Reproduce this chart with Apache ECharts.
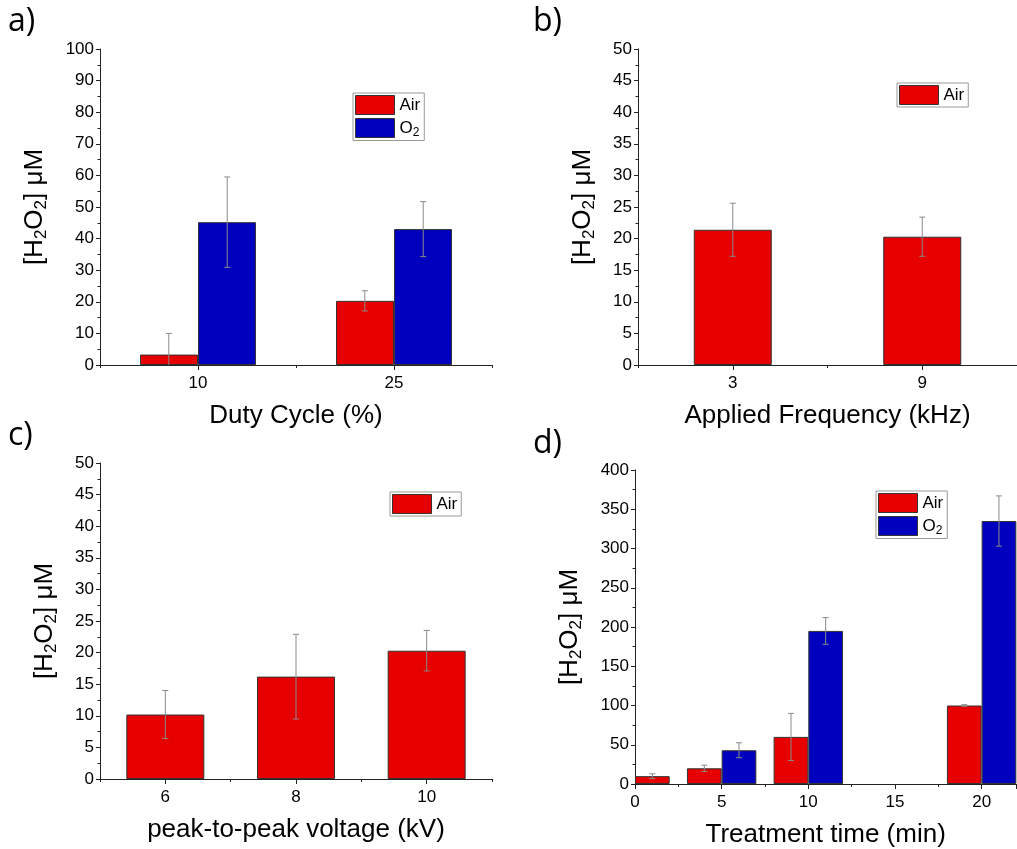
<!DOCTYPE html>
<html>
<head>
<meta charset="utf-8">
<script src="https://cdn.jsdelivr.net/npm/echarts@6/dist/echarts.min.js"></script>
<style>
  html, body { margin: 0; padding: 0; background: #fff; }
  #chart { width: 1017px; height: 849px; }
</style>
</head>
<body>
<div id="chart"></div>
<script>
// a) duty cycle
const dutyCats = ['10', '25'];
const dutyAir = [3.3, 20.3];
const dutyAirErr = [6.7, 3.2];
const dutyO2 = [45.2, 43.0];
const dutyO2Err = [14.3, 8.7];

// b) applied frequency
const freqCats = ['3', '9'];
const freqAir = [21.4, 20.3];
const freqAirErr = [4.2, 3.1];

// c) peak-to-peak voltage
const voltCats = ['6', '8', '10'];
const voltAir = [10.2, 16.2, 20.3];
const voltAirErr = [3.8, 6.7, 3.2];

// d) treatment time
const timeAirX = [2, 5, 10, 20];
const timeAir = [10, 20, 60, 100];
const timeAirErr = [3, 4, 30, 1];
const timeO2X = [5, 10, 20];
const timeO2 = [43, 195, 335];
const timeO2Err = [9.5, 17, 32];

const RED = '#E60000';
const BLUE = '#0000BE';
const FONT = 'Liberation Sans, Arial, sans-serif';

const yName = '[H{s|2}O{s|2}] μM';
const nameStyle = {
    fontSize: 26, color: '#000', fontFamily: FONT,
    rich: { s: { fontSize: 17, fontFamily: FONT, color: '#000', padding: [14, 0, 0, 0] } }
};
const labelStyle = { fontSize: 17, color: '#000', fontFamily: FONT };
const lineStyle = { color: '#222', width: 1 };

function yAxis(grid, max, interval, gap) {
    return {
        type: 'value', gridIndex: grid, min: 0, max: max, interval: interval,
        name: yName, nameLocation: 'middle', nameGap: gap, nameTextStyle: nameStyle,
        axisLine: { show: true, lineStyle: lineStyle },
        axisTick: { show: true, length: 4, lineStyle: lineStyle },
        minorTick: { show: true, splitNumber: 2, length: 2.5, lineStyle: lineStyle },
        axisLabel: Object.assign({ margin: 6 }, labelStyle),
        splitLine: { show: false }
    };
}

function catAxis(grid, cats, name) {
    return {
        type: 'category', gridIndex: grid, data: cats, position: 'bottom',
        name: name, nameLocation: 'middle', nameGap: 38, nameTextStyle: nameStyle,
        axisLine: { show: true, lineStyle: lineStyle },
        axisTick: { show: true, alignWithLabel: true, length: 5, lineStyle: lineStyle },
        axisLabel: Object.assign({ margin: 10 }, labelStyle)
    };
}

// boundary (minor) ticks between categories
function minorCatAxis(grid, cats) {
    return {
        type: 'category', gridIndex: grid, data: cats, position: 'bottom', offset: 0,
        axisLine: { show: false },
        axisTick: { show: true, length: 3, lineStyle: lineStyle },
        axisLabel: { show: false }
    };
}

function barSeries(name, xi, yi, data, color, width) {
    return {
        type: 'bar', name: name, xAxisIndex: xi, yAxisIndex: yi, data: data,
        barWidth: width, barGap: '0%',
        itemStyle: { color: color, borderColor: '#333', borderWidth: 1 }
    };
}

// pts: [x, value, err]; shift in axis units (category band or value unit)
function errSeries(xi, yi, pts, shift) {
    return {
        type: 'custom', xAxisIndex: xi, yAxisIndex: yi, data: pts, clip: true, z: 5,
        renderItem: function (params, api) {
            const x = api.value(0), v = api.value(1), e = api.value(2);
            const cx = api.coord([x, v])[0] + shift * api.size([1, 0])[0];
            const top = api.coord([x, v + e])[1];
            const bot = api.coord([x, v - e])[1];
            const st = { stroke: '#8a8a8a', lineWidth: 1 };
            return {
                type: 'group',
                children: [
                    { type: 'line', shape: { x1: cx, y1: top, x2: cx, y2: bot }, style: st },
                    { type: 'line', shape: { x1: cx - 3, y1: top, x2: cx + 3, y2: top }, style: st },
                    { type: 'line', shape: { x1: cx - 3, y1: bot, x2: cx + 3, y2: bot }, style: st }
                ]
            };
        }
    };
}

function zipErr(xs, vals, errs) {
    return vals.map((v, i) => [xs[i], v, errs[i]]);
}
const idx = arr => arr.map((_, i) => i);

function legend(left, top, names) {
    return {
        left: left, top: top, orient: 'vertical', data: names,
        icon: 'rect',
        itemWidth: 39, itemHeight: 19, itemGap: 3, padding: [2, 4, 2, 2],
        borderColor: '#999', borderWidth: 1, borderRadius: 0,
        selectedMode: false,
        itemStyle: { borderColor: '#333', borderWidth: 1 },
        formatter: n => n === 'O2' ? 'O{s|2}' : n,
        textStyle: {
            fontSize: 17, color: '#000', fontFamily: FONT,
            rich: { s: { fontSize: 12, fontFamily: FONT, color: '#000', padding: [9, 0, 0, 0] } }
        }
    };
}

function panelLabel(text, x, y) {
    return { type: 'text', left: x, top: y, style: { text: text, fontSize: 32, fontFamily: 'Open Sans, sans-serif', fill: '#000' } };
}

const chart = echarts.init(document.getElementById('chart'));

chart.setOption({
    backgroundColor: '#fff',
    animation: false,
    grid: [
        { left: 100, top: 49, width: 392, height: 316 },
        { left: 638, top: 49, width: 390, height: 316 },
        { left: 100, top: 463, width: 392, height: 316 },
        { left: 635, top: 470, width: 381.3, height: 314 }
    ],
    xAxis: [
        catAxis(0, dutyCats, 'Duty Cycle (%)'),
        catAxis(1, freqCats, 'Applied Frequency (kHz)'),
        catAxis(2, voltCats, 'peak-to-peak voltage (kV)'),
        {
            type: 'value', gridIndex: 3, min: 0, max: 22, interval: 5,
            name: 'Treatment time (min)', nameLocation: 'middle', nameGap: 38, nameTextStyle: nameStyle,
            axisLine: { show: true, lineStyle: lineStyle },
            axisTick: { show: true, length: 5, lineStyle: lineStyle },
            minorTick: { show: true, splitNumber: 2, length: 3, lineStyle: lineStyle },
            axisLabel: Object.assign({ margin: 10, showMaxLabel: false }, labelStyle),
            splitLine: { show: false }
        },
        minorCatAxis(0, dutyCats),
        minorCatAxis(1, freqCats),
        minorCatAxis(2, voltCats)
    ],
    yAxis: [
        yAxis(0, 100, 10, 50),
        yAxis(1, 50, 5, 40),
        yAxis(2, 50, 5, 40),
        yAxis(3, 400, 50, 50)
    ],
    legend: [
        legend(353, 93, ['Air', 'O2']),
        legend(897, 83, ['Air']),
        legend(390, 492, ['Air']),
        legend(876, 491, ['Air', 'O2'])
    ],
    graphic: [
        panelLabel('a)', 8, 6),
        panelLabel('b)', 533, 6),
        panelLabel('c)', 8, 420),
        panelLabel('d)', 533, 428)
    ],
    series: [
        barSeries('Air', 0, 0, dutyAir, RED, 58),
        barSeries('O2', 0, 0, dutyO2, BLUE, 58),
        errSeries(0, 0, zipErr(idx(dutyCats), dutyAir, dutyAirErr), -0.149),
        errSeries(0, 0, zipErr(idx(dutyCats), dutyO2, dutyO2Err), 0.149),

        barSeries('Air', 1, 1, freqAir, RED, 78),
        errSeries(1, 1, zipErr(idx(freqCats), freqAir, freqAirErr), 0),

        barSeries('Air', 2, 2, voltAir, RED, 78),
        errSeries(2, 2, zipErr(idx(voltCats), voltAir, voltAirErr), 0),

        barSeries('Air', 3, 3, timeAirX.map((x, i) => [x, timeAir[i]]), RED, 34.7),
        barSeries('O2', 3, 3, timeO2X.map((x, i) => [x, timeO2[i]]), BLUE, 34.7),
        errSeries(3, 3, zipErr(timeAirX, timeAir, timeAirErr), -1),
        errSeries(3, 3, zipErr(timeO2X, timeO2, timeO2Err), 1)
    ]
});
</script>
</body>
</html>
